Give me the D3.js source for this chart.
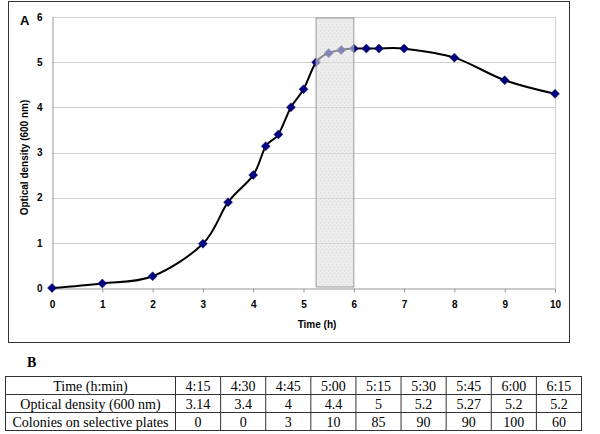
<!DOCTYPE html>
<html><head><meta charset="utf-8">
<script src="https://cdn.jsdelivr.net/npm/d3@7"></script>
<style>body{margin:0;background:#fff}svg{display:block}</style>
</head><body>
<svg id="c" width="600" height="434"></svg>
<script>
// ---- data ----
const timeH = [0, 1, 2, 3, 3.5, 4, 4.25, 4.5, 4.75, 5, 5.25, 5.5, 5.75, 6, 6.25, 6.5, 7, 8, 9, 10];
const odVals = [0, 0.1, 0.26, 0.98, 1.9, 2.5, 3.14, 3.4, 4, 4.4, 5, 5.2, 5.27, 5.3, 5.3, 5.3, 5.3, 5.1, 4.6, 4.3];
const shadeRange = [5.25, 6];
const xTicks = [0,1,2,3,4,5,6,7,8,9,10];
const yTicks = [0,1,2,3,4,5,6];
const tableTimes = ["4:15","4:30","4:45","5:00","5:15","5:30","5:45","6:00","6:15"];
const tableOD = ["3.14","3.4","4","4.4","5","5.2","5.27","5.2","5.2"];
const tableColonies = ["0","0","3","10","85","90","90","100","60"];
const rowLabels = ["Time (h:min)","Optical density (600 nm)","Colonies on selective plates"];

const svg = d3.select("#c");
const L=52, R=555, T=17, B=288;
const x = d3.scaleLinear().domain([0,10]).range([L,R]);
const y = d3.scaleLinear().domain([0,6]).range([B,T]);

// outer frame
svg.append("rect").attr("x",8.5).attr("y",1.5).attr("width",561).attr("height",341)
  .attr("fill","none").attr("stroke","#333").attr("stroke-width",1);

// gridlines
svg.append("g").selectAll("line").data(yTicks.filter(d=>d>0)).join("line")
  .attr("x1",L).attr("x2",R).attr("y1",d=>Math.round(y(d))+0.5).attr("y2",d=>Math.round(y(d))+0.5)
  .attr("stroke","#cfcfcf");
// right border
svg.append("line").attr("x1",R+0.5).attr("x2",R+0.5).attr("y1",T).attr("y2",B).attr("stroke","#cfcfcf");

// x axis
const xa = svg.append("g").attr("transform",`translate(0,${B+0.5})`)
  .call(d3.axisBottom(x).tickValues(xTicks).tickSize(4).tickPadding(8).tickFormat(d3.format("d")));
xa.select(".domain").attr("stroke","#999");
xa.selectAll(".tick line").attr("stroke","#999");
xa.selectAll("text").attr("font-family","Liberation Sans, Arial").attr("font-weight","bold").attr("font-size","10px").attr("fill","#000");

// y axis
const ya = svg.append("g").attr("transform",`translate(${L+0.5},0)`)
  .call(d3.axisLeft(y).tickValues(yTicks).tickSize(0).tickPadding(10).tickFormat(d3.format("d")));
ya.select(".domain").attr("stroke","#999");
ya.selectAll("text").attr("font-family","Liberation Sans, Arial").attr("font-weight","bold").attr("font-size","10px").attr("fill","#000");

// line
const pts = timeH.map((t,i)=>[t,odVals[i]]);
svg.append("path").datum(pts)
  .attr("d",d3.line().x(d=>x(d[0])).y(d=>y(d[1])).curve(d3.curveCatmullRom.alpha(0)))
  .attr("fill","none").attr("stroke","#000").attr("stroke-width",2);

// markers (square diamond)
svg.append("g").selectAll("path").data(pts).join("path")
  .attr("transform",d=>`translate(${x(d[0])},${y(d[1])})`)
  .attr("d","M0,-4.5L4.5,0L0,4.5L-4.5,0Z")
  .attr("fill","#000080").attr("stroke","#1a1a5a").attr("stroke-width",0.5);

// shaded region
const defs = svg.append("defs");
const pat = defs.append("pattern").attr("id","dots").attr("width",4).attr("height",6).attr("patternUnits","userSpaceOnUse");
pat.append("rect").attr("width",4).attr("height",6).attr("fill","#e0e0e0");
pat.append("rect").attr("x",0).attr("y",0).attr("width",1).attr("height",1).attr("fill","#c4c4c4");
pat.append("rect").attr("x",2).attr("y",3).attr("width",1).attr("height",1).attr("fill","#c4c4c4");
svg.append("rect").attr("x",x(shadeRange[0])).attr("y",T+1).attr("width",x(shadeRange[1])-x(shadeRange[0])).attr("height",B-T-2)
  .attr("fill","url(#dots)").attr("fill-opacity",0.6).attr("stroke","#999").attr("stroke-width",1);

// titles
svg.append("text").attr("x",20).attr("y",25).text("A")
  .attr("font-family","Liberation Sans, Arial").attr("font-weight","bold").attr("font-size","13px");
svg.append("text").attr("transform",`translate(28,${(T+B)/2+5}) rotate(-90)`).attr("text-anchor","middle")
  .text("Optical density (600 nm)").attr("font-family","Liberation Sans, Arial").attr("font-weight","bold").attr("font-size","10px");
svg.append("text").attr("x",317).attr("y",328).attr("text-anchor","middle").text("Time (h)")
  .attr("font-family","Liberation Sans, Arial").attr("font-weight","bold").attr("font-size","10px");

// table B
svg.append("text").attr("x",27).attr("y",367).text("B")
  .attr("font-family","Liberation Serif, Times New Roman").attr("font-weight","bold").attr("font-size","14px");
const colEdges = [5.5,175.5];
const cw = (581-175)/tableTimes.length;
tableTimes.forEach((_,i)=>colEdges.push(175.5+cw*(i+1)));
const rowY = [376.5,394.5,412.5,430.5];
const rows = [tableTimes, tableOD, tableColonies];
const tg = svg.append("g");
tg.append("rect").attr("x",colEdges[0]).attr("y",rowY[0]).attr("width",colEdges[colEdges.length-1]-colEdges[0]).attr("height",rowY[3]-rowY[0])
  .attr("fill","none").attr("stroke","#333");
rowY.slice(1,3).forEach(yy=>tg.append("line").attr("x1",colEdges[0]).attr("x2",colEdges[colEdges.length-1]).attr("y1",yy).attr("y2",yy).attr("stroke","#333"));
colEdges.slice(1,-1).forEach(xx=>tg.append("line").attr("x1",xx).attr("x2",xx).attr("y1",rowY[0]).attr("y2",rowY[3]).attr("stroke","#333"));
rows.forEach((r,ri)=>{
  const cy = (rowY[ri]+rowY[ri+1])/2 + 5;
  tg.append("text").attr("x",(colEdges[0]+colEdges[1])/2).attr("y",cy).attr("text-anchor","middle").text(rowLabels[ri])
    .attr("font-family","Liberation Serif, Times New Roman").attr("font-size","14px");
  r.forEach((v,ci)=>{
    tg.append("text").attr("x",(colEdges[ci+1]+colEdges[ci+2])/2).attr("y",cy).attr("text-anchor","middle").text(v)
      .attr("font-family","Liberation Serif, Times New Roman").attr("font-size","14px");
  });
});
</script>
</body></html>
